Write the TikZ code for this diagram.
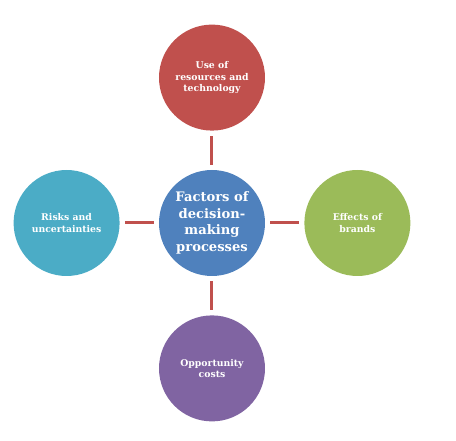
\documentclass[tikz,border=0pt]{standalone}
\usepackage{fontspec}
\setmainfont{DejaVu Serif}
\usetikzlibrary{positioning}
\definecolor{hubblue}{HTML}{4F81BD}
\definecolor{factred}{HTML}{C0504D}
\definecolor{factgreen}{HTML}{9BBB59}
\definecolor{factpurple}{HTML}{8064A2}
\definecolor{factaqua}{HTML}{4BACC6}

\begin{document}
\begin{tikzpicture}[
          node distance=39pt,
          factor/.style={circle,minimum size=106pt,inner sep=0pt,align=center,text=white,
              font=\fontsize{9.3}{11.7}\selectfont\bfseries},
          hub/.style={factor,font=\fontsize{13.1}{16.7}\selectfont\bfseries},
          link/.style={line width=3pt,factred,shorten <=5pt,shorten >=5pt}]
        \useasboundingbox (-212pt,223pt) rectangle (244pt,-218pt);
        \node[hub,fill=hubblue] (hub) at (0,0) {Factors of\\decision-\\making\\processes};
        \node[factor,fill=factred,above=of hub] (res) {Use of\\resources and\\technology};
        \node[factor,fill=factgreen,right=of hub] (brand) {Effects of\\brands};
        \node[factor,fill=factpurple,below=of hub] (cost) {Opportunity\\costs};
        \node[factor,fill=factaqua,left=of hub] (risk) {Risks and\\uncertainties};
        \foreach \x/\y in {hub/res,hub/brand,hub/cost,hub/risk}
        \draw[link] (\x)--(\y);
      \end{tikzpicture}
\end{document}
